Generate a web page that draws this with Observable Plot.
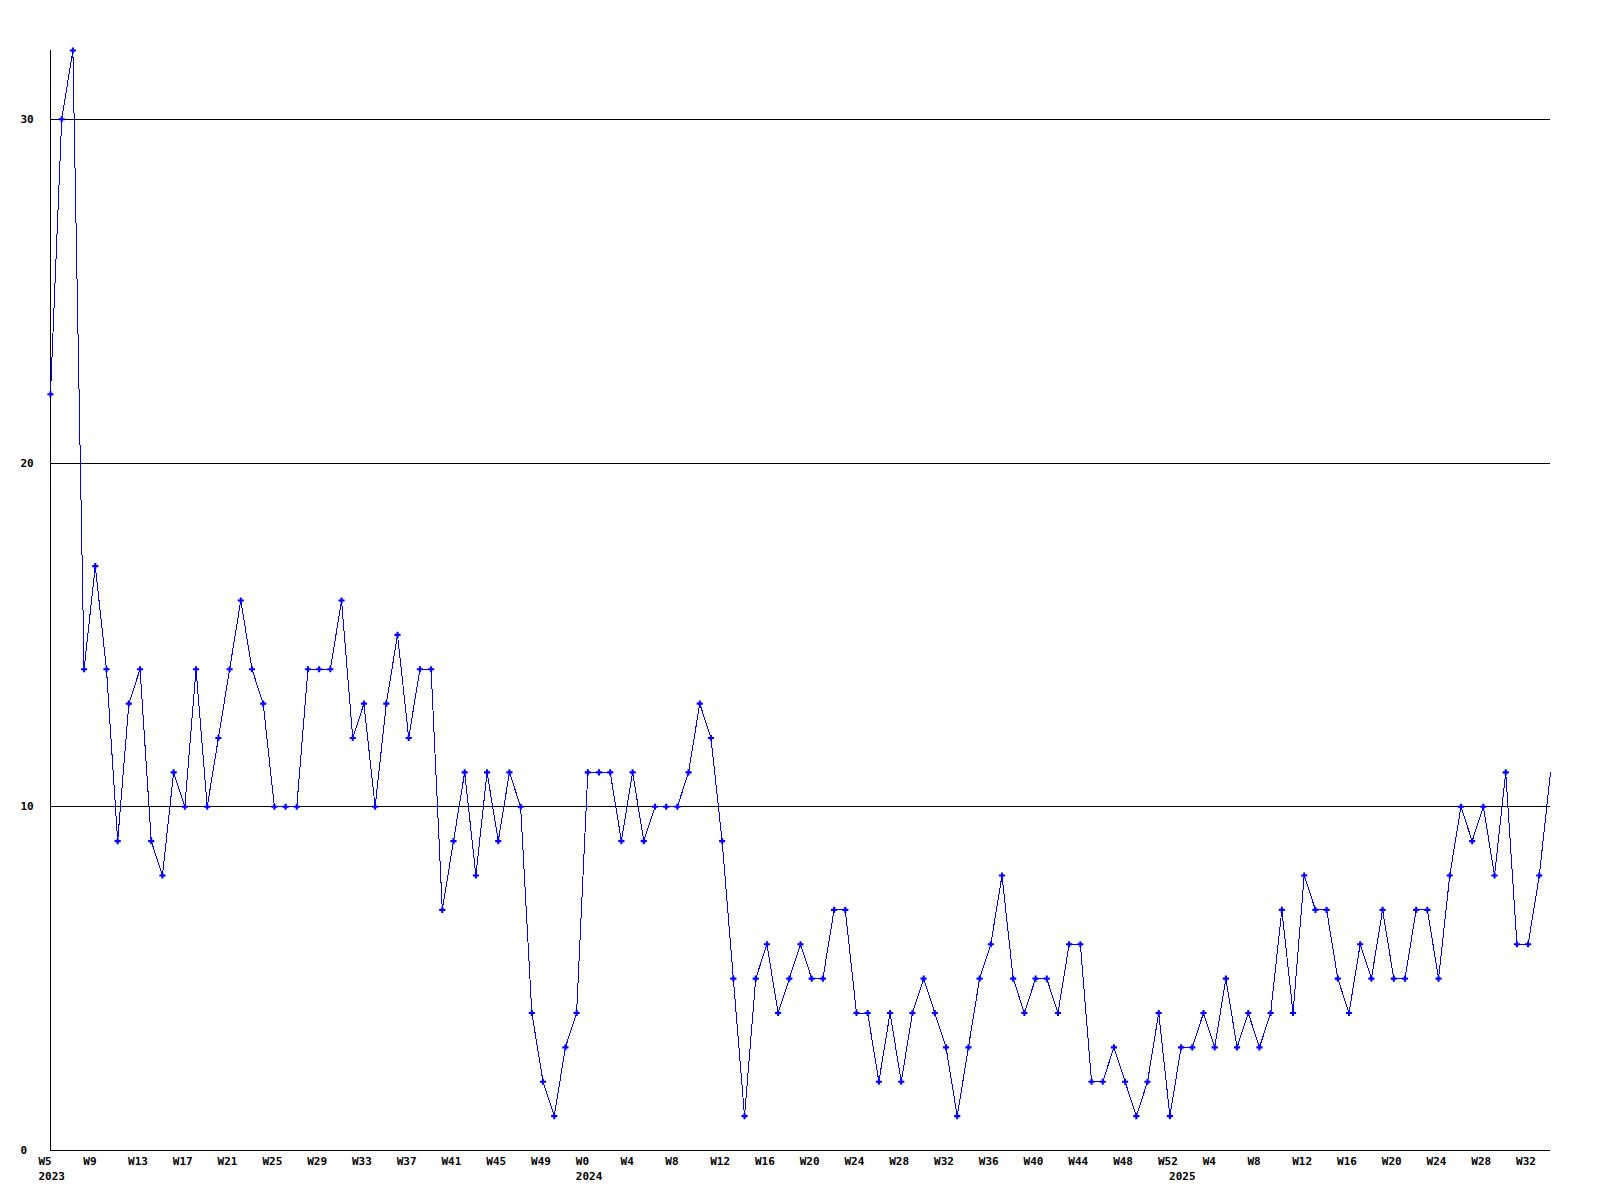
<!DOCTYPE html>
<html>
<head>
<meta charset="utf-8">
<script src="https://cdn.jsdelivr.net/npm/d3@7"></script>
<script src="https://cdn.jsdelivr.net/npm/@observablehq/plot@0.6"></script>
<style>
  html, body { margin: 0; padding: 0; background: #ffffff; }
  #chart svg { display: block; }
</style>
</head>
<body>
<div id="chart"></div>
<script>
// Week periods covered by the series: [year, first week, last week]
const periods = [
  [2023, 5, 52],
  [2024, 0, 52],
  [2025, 1, 34]
];

// Weekly counts, one per week in the periods above
const values = [
  22, 30, 32, 14, 17, 14, 9, 13, 14, 9,
  8, 11, 10, 14, 10, 12, 14, 16, 14, 13,
  10, 10, 10, 14, 14, 14, 16, 12, 13, 10,
  13, 15, 12, 14, 14, 7, 9, 11, 8, 11,
  9, 11, 10, 4, 2, 1, 3, 4, 11, 11,
  11, 9, 11, 9, 10, 10, 10, 11, 13, 12,
  9, 5, 1, 5, 6, 4, 5, 6, 5, 5,
  7, 7, 4, 4, 2, 4, 2, 4, 5, 4,
  3, 1, 3, 5, 6, 8, 5, 4, 5, 5,
  4, 6, 6, 2, 2, 3, 2, 1, 2, 4,
  1, 3, 3, 4, 3, 5, 3, 4, 3, 4,
  7, 4, 8, 7, 7, 5, 4, 6, 5, 7,
  5, 5, 7, 7, 5, 8, 10, 9, 10, 8,
  11, 6, 6, 8, 11
];

const yTicks = [0, 10, 20, 30];
const gridValues = [10, 20, 30];
const tickEvery = 4;

// Build the week categories
const weeks = [];
for (const [year, first, last] of periods) {
  for (let w = first; w <= last; w++) weeks.push({year, week: w, firstOfYear: w === first});
}
const data = values.map((v, i) => ({i, v, ...weeks[i]}));
const weekTicks = data.filter(d => d.i % tickEvery === 0);
const yearTicks = data.filter(d => d.firstOfYear);

const font = "'DejaVu Sans Mono', 'Liberation Mono', monospace";
const labelStyle = {fontSize: 11, fontWeight: "bold", fill: "#000000", fontFamily: font, textAnchor: "start"};

const chart = Plot.plot({
  width: 1600,
  height: 1200,
  marginLeft: 50,
  marginRight: 50,
  marginTop: 50,
  marginBottom: 50,
  style: {background: "#ffffff", fontFamily: font, color: "#000000"},
  x: {domain: [0, values.length - 1], axis: null},
  y: {domain: [0, 32], axis: null},
  marks: [
    Plot.ruleY(gridValues, {stroke: "#000000", strokeWidth: 1, shapeRendering: "crispEdges"}),
    Plot.ruleY([0], {stroke: "#000000", strokeWidth: 1, shapeRendering: "crispEdges"}),
    Plot.ruleX([0], {stroke: "#000000", strokeWidth: 1, shapeRendering: "crispEdges"}),
    Plot.line(data, {x: "i", y: "v", stroke: "#0000ff", strokeWidth: 1, shapeRendering: "crispEdges"}),
    Plot.dot(data.slice(0, -1), {x: "i", y: "v", symbol: "cross", r: 2.6, fill: "#0000ff", stroke: "none"}),
    Plot.text(yTicks, {
      y: d => d, text: d => String(d), frameAnchor: "left", dx: -30, ...labelStyle
    }),
    Plot.text(weekTicks, {
      x: "i", text: d => "W" + d.week, frameAnchor: "bottom", dy: 14, dx: -12, ...labelStyle
    }),
    Plot.text(yearTicks, {
      x: "i", text: d => String(d.year), frameAnchor: "bottom", dy: 29, dx: -12, ...labelStyle
    })
  ]
});
document.getElementById("chart").appendChild(chart);
</script>
</body>
</html>
